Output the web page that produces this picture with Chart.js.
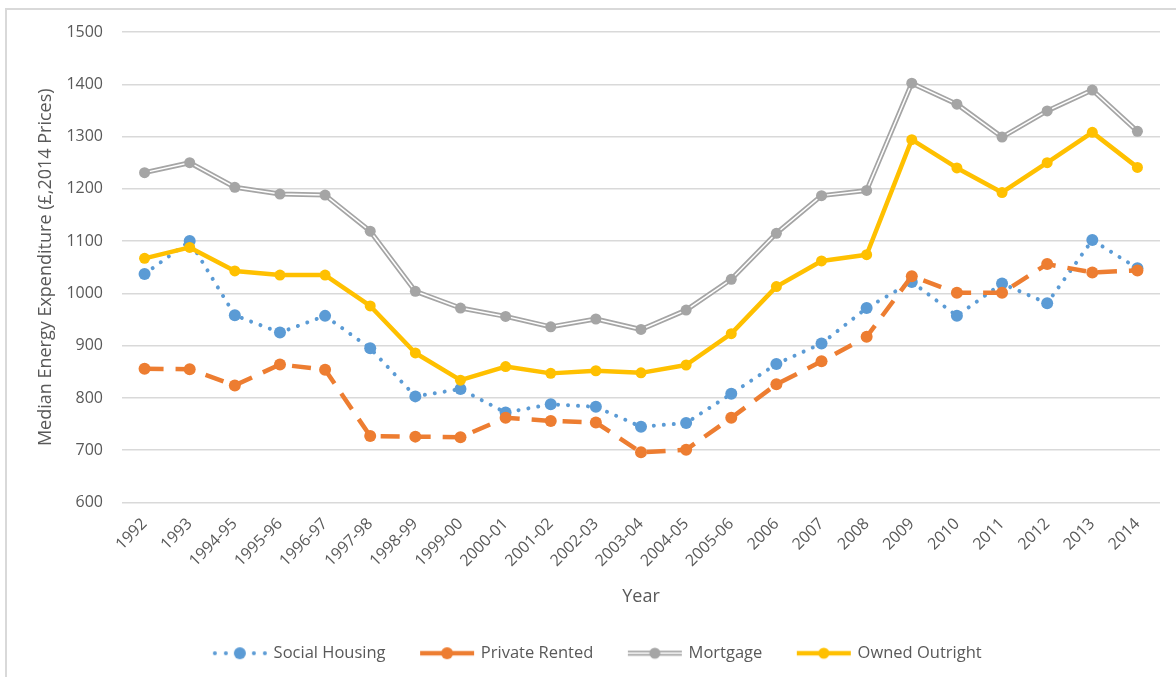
<!DOCTYPE html>
<html>
<head>
<meta charset="utf-8">
<script src="https://cdn.jsdelivr.net/npm/chart.js@4.4.0/dist/chart.umd.min.js"></script>
<style>
    html, body { margin: 0; padding: 0; background: #fff; }
</style>
</head>
<body>
<canvas id="energy_graph" width="1176" height="677"></canvas>
<script>
const years = ["1992", "1993", "1994-95", "1995-96", "1996-97", "1997-98", "1998-99", "1999-00",
    "2000-01", "2001-02", "2002-03", "2003-04", "2004-05", "2005-06", "2006", "2007", "2008",
    "2009", "2010", "2011", "2012", "2013", "2014"]
const social_housing = [1037, 1100, 958, 925, 957, 895, 803, 817, 772, 788, 783, 745, 752, 808,
    865, 904, 972, 1022, 957, 1019, 981, 1102, 1048]
const private_rented = [856, 855, 824, 864, 854, 727, 726, 725, 762, 756, 753, 696, 701, 762,
    826, 870, 917, 1033, 1001, 1001, 1056, 1040, 1044]
const mortgage = [1231, 1250, 1203, 1190, 1188, 1119, 1004, 972, 956, 936, 951, 931, 968, 1027,
    1115, 1187, 1197, 1402, 1362, 1299, 1349, 1389, 1310]
const owned_outright = [1067, 1088, 1043, 1035, 1035, 976, 886, 834, 860, 847, 852, 848, 863, 923,
    1013, 1062, 1074, 1294, 1240, 1193, 1250, 1308, 1241]
const series_names = ["Social Housing", "Private Rented", "Mortgage", "Owned Outright"]

const BLUE = "#5b9bd5"
const ORANGE = "#ed7d31"
const GREY = "#a5a5a5"
const YELLOW = "#ffc000"
const TEXT = "#595959"

Chart.defaults.font.family = "'Open Sans', sans-serif"
Chart.defaults.color = TEXT

// little line + marker pictures for the legend
function legendSample(draw){
    let c = document.createElement("canvas")
    c.width = 56
    c.height = 16
    let ctx = c.getContext("2d")
    draw(ctx)
    return c
}

function marker(ctx, color, r){
    ctx.fillStyle = color
    ctx.beginPath()
    ctx.arc(28, 8, r, 0, Math.PI * 2)
    ctx.fill()
}

function segment(ctx, color, width){
    ctx.strokeStyle = color
    ctx.lineWidth = width
    ctx.beginPath()
    ctx.moveTo(1, 8)
    ctx.lineTo(55, 8)
    ctx.stroke()
}

const samples = [
    legendSample(ctx => {
        ctx.fillStyle = BLUE
        for(let x of [3, 14, 42, 53]){
            ctx.beginPath()
            ctx.arc(x, 8, 2, 0, Math.PI * 2)
            ctx.fill()
        }
        marker(ctx, BLUE, 6)
    }),
    legendSample(ctx => {
        segment(ctx, ORANGE, 4.5)
        marker(ctx, ORANGE, 6)
    }),
    legendSample(ctx => {
        segment(ctx, GREY, 5)
        segment(ctx, "#fff", 1.5)
        marker(ctx, GREY, 5.5)
    }),
    legendSample(ctx => {
        segment(ctx, YELLOW, 4.5)
        marker(ctx, YELLOW, 5.5)
    })
]

const frame = {
    id: "frame",
    beforeDraw(chart){
        let ctx = chart.ctx
        ctx.save()
        ctx.fillStyle = "#fff"
        ctx.fillRect(0, 0, chart.width, chart.height)
        ctx.strokeStyle = "#d9d9d9"
        ctx.lineWidth = 2
        ctx.strokeRect(6, 9, chart.width + 20, chart.height + 20)
        ctx.restore()
    }
}

const legendShift = {
    id: "legendShift",
    afterLayout(chart){
        chart.legend.left += 15
        chart.legend.right += 15
    }
}

const charts_data = {
    labels: years,
    datasets: [
        {
            label: series_names[0],
            data: social_housing,
            borderColor: BLUE,
            backgroundColor: BLUE,
            borderWidth: 4,
            borderDash: [0.01, 10],
            borderCapStyle: "round",
            pointRadius: 6,
            pointBorderWidth: 0,
            order: 6
        },
        {
            label: series_names[1],
            data: private_rented,
            borderColor: ORANGE,
            backgroundColor: ORANGE,
            borderWidth: 4.5,
            borderDash: [19, 12],
            pointRadius: 6,
            pointBorderWidth: 0,
            order: 5
        },
        {
            label: series_names[2],
            data: mortgage,
            borderColor: GREY,
            borderWidth: 5,
            borderJoinStyle: "round",
            pointRadius: 0,
            order: 4
        },
        {
            label: "mortgage_inner",
            data: mortgage,
            borderColor: "#fff",
            borderWidth: 1.5,
            borderJoinStyle: "round",
            pointRadius: 0,
            order: 3
        },
        {
            label: "mortgage_points",
            data: mortgage,
            showLine: false,
            backgroundColor: GREY,
            borderColor: GREY,
            pointRadius: 5.5,
            pointBorderWidth: 0,
            order: 2
        },
        {
            label: series_names[3],
            data: owned_outright,
            borderColor: YELLOW,
            backgroundColor: YELLOW,
            borderWidth: 4.5,
            borderJoinStyle: "round",
            pointRadius: 5.5,
            pointBorderWidth: 0,
            order: 1
        }
    ]
}

const config = {
    type: "line",
    data: charts_data,
    plugins: [frame, legendShift],
    options: {
        responsive: false,
        animation: false,
        devicePixelRatio: 1,
        layout: {
            padding: {left: 6, right: 16, top: 32, bottom: 5.5}
        },
        scales: {
            x: {
                offset: true,
                grid: {display: false},
                border: {display: false},
                ticks: {
                    autoSkip: false,
                    maxRotation: 45,
                    minRotation: 45,
                    padding: 4,
                    color: TEXT,
                    font: {size: 16}
                },
                title: {
                    display: true,
                    text: "Year",
                    color: TEXT,
                    font: {size: 18},
                    padding: {top: 0, bottom: 1.7}
                },
                afterFit: scale => { scale.height = 106.5 }
            },
            y: {
                min: 600,
                max: 1500,
                ticks: {
                    stepSize: 100,
                    padding: 19,
                    color: TEXT,
                    font: {size: 16},
                    callback: value => String(value)
                },
                grid: {
                    color: "#d9d9d9",
                    lineWidth: 1.5,
                    drawTicks: false
                },
                border: {display: false},
                title: {
                    display: true,
                    text: "Median Energy Expenditure (£,2014 Prices)",
                    color: TEXT,
                    font: {size: 18},
                    padding: {top: 29, bottom: 0}
                },
                afterFit: scale => { scale.width = 116 }
            }
        },
        plugins: {
            tooltip: {enabled: false},
            legend: {
                position: "bottom",
                labels: {
                    usePointStyle: true,
                    pointStyleWidth: 51,
                    padding: 36,
                    color: TEXT,
                    font: {size: 16.5},
                    generateLabels: chart => series_names.map((name, i) => ({
                        text: name,
                        pointStyle: samples[i],
                        fontColor: TEXT,
                        fillStyle: "transparent",
                        strokeStyle: "transparent",
                        lineWidth: 0,
                        hidden: false,
                        datasetIndex: i
                    }))
                }
            }
        }
    }
}

const chartId = document.getElementById("energy_graph")
const chart = new Chart(chartId, config)
</script>
</body>
</html>
